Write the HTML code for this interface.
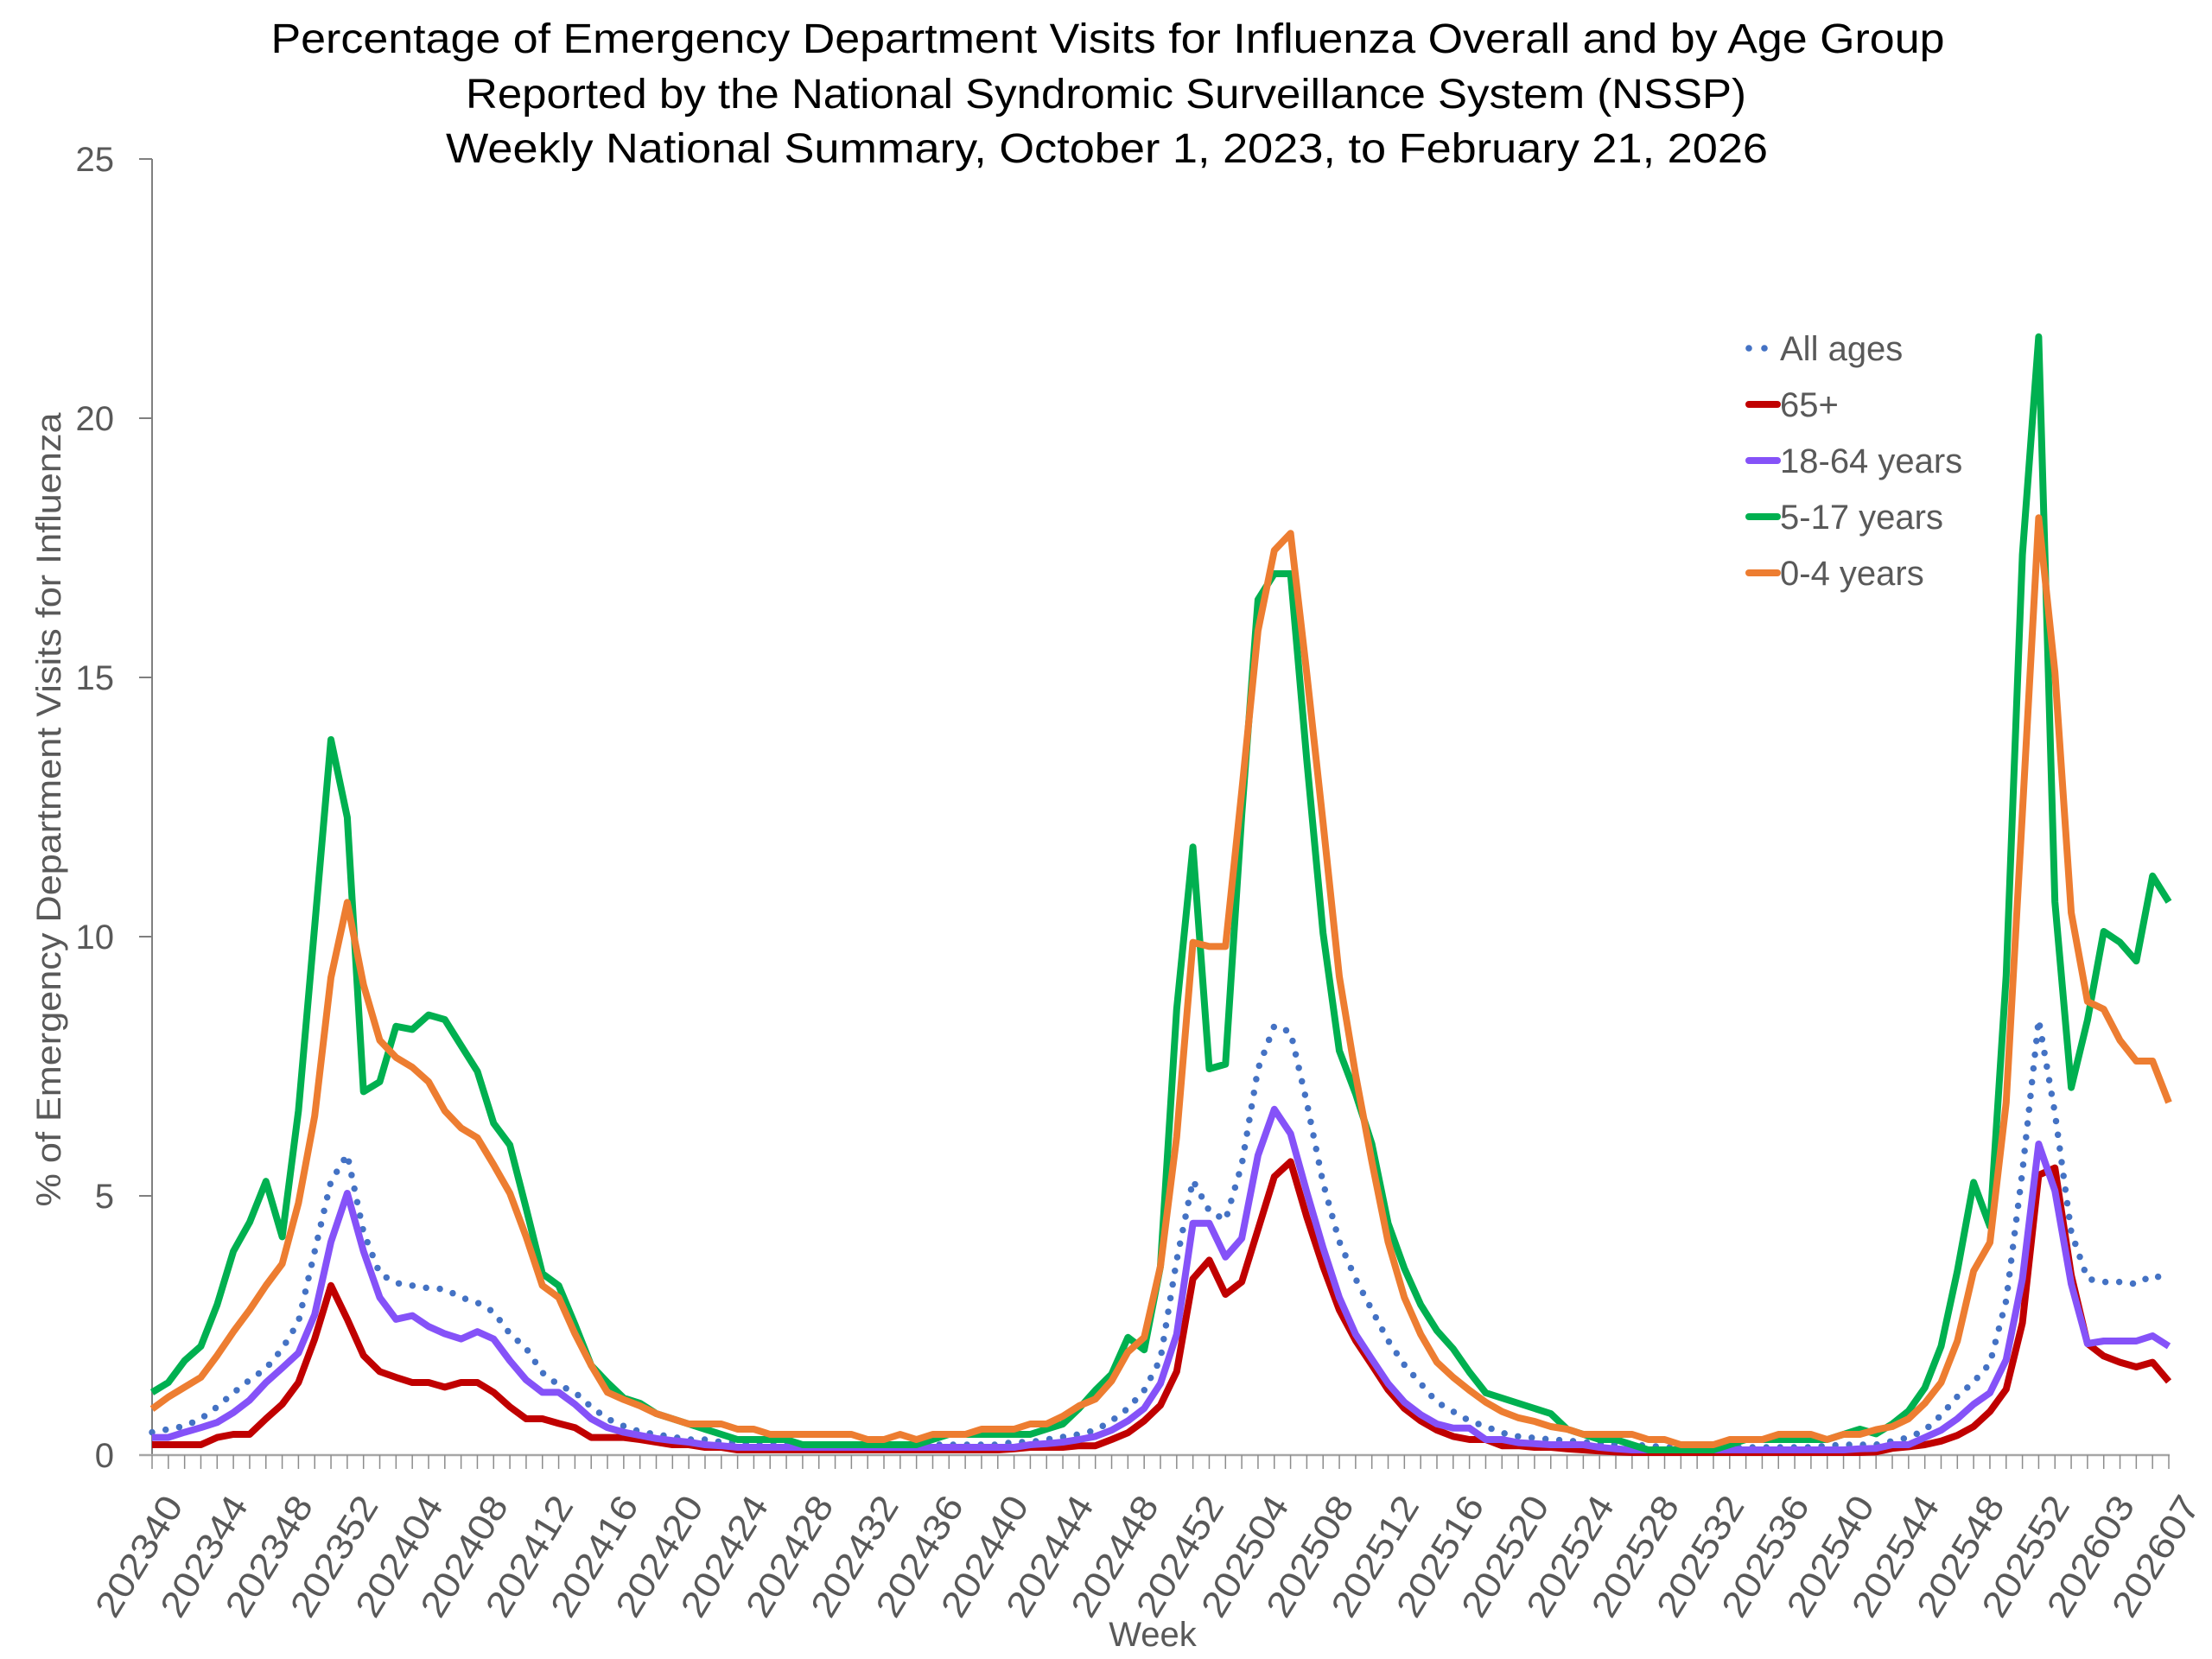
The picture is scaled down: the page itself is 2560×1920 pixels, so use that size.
<!DOCTYPE html>
<html><head><meta charset="utf-8"><style>
html,body{margin:0;padding:0;background:#fff;}
svg{display:block;}
</style></head><body>
<svg id="s" width="2560" height="1920" viewBox="0 0 2560 1920" xmlns="http://www.w3.org/2000/svg" font-family="Liberation Sans, sans-serif">
<rect width="2560" height="1920" fill="#fff"/>
<g fill="#000" font-size="48" text-anchor="middle">
<text x="1282" y="61" textLength="1937" lengthAdjust="spacingAndGlyphs">Percentage of Emergency Department Visits for Influenza Overall and by Age Group</text>
<text x="1280" y="125" textLength="1482" lengthAdjust="spacingAndGlyphs">Reported by the National Syndromic Surveillance System (NSSP)</text>
<text x="1281" y="188" textLength="1530" lengthAdjust="spacingAndGlyphs">Weekly National Summary, October 1, 2023, to February 21, 2026</text>
</g>
<text transform="translate(70,937) rotate(-90)" text-anchor="middle" font-size="40" fill="#595959" textLength="919" lengthAdjust="spacingAndGlyphs">% of Emergency Department Visits for Influenza</text>
<text x="1334" y="1905" text-anchor="middle" font-size="40" fill="#595959">Week</text>
<g id="axes"></g>
<g id="series"></g>
<g id="legend" font-size="40" fill="#595959"></g>
</svg>
<script>
const NS="http://www.w3.org/2000/svg";
function el(p,t,a,txt){const e=document.createElementNS(NS,t);for(const k in a)e.setAttribute(k,a[k]);if(txt!==undefined)e.textContent=txt;p.appendChild(e);return e;}
const X0=176,DX=2334/124,Y0=1684,SY=60;
const xp=i=>X0+DX*i, yp=v=>Y0-SY*v;
const ax=document.getElementById('axes');
// y axis
el(ax,'line',{x1:X0,y1:184,x2:X0,y2:Y0,stroke:'#7f7f7f','stroke-width':2});
for(let v=0;v<=25;v+=5){
  el(ax,'line',{x1:161,y1:yp(v),x2:X0,y2:yp(v),stroke:'#7f7f7f','stroke-width':2});
  el(ax,'text',{x:132,y:yp(v)+14,'text-anchor':'end','font-size':40,fill:'#595959'},String(v));
}
el(ax,'line',{x1:161,y1:Y0,x2:2511,y2:Y0,stroke:'#a6a6a6','stroke-width':2.5});
for(let i=0;i<=124;i++){
  el(ax,'line',{x1:xp(i),y1:Y0,x2:xp(i),y2:1700,stroke:'#8c8c8c','stroke-width':1.5});
}
const labels=["202340","202344","202348","202352","202404","202408","202412","202416","202420","202424","202428","202432","202436","202440","202444","202448","202452","202504","202508","202512","202516","202520","202524","202528","202532","202536","202540","202544","202548","202552","202603","202607"];
labels.forEach((l,k)=>{
  const x=xp(k*4)+37,y=1742;
  el(ax,'text',{transform:`translate(${x},${y}) rotate(-59)`,'text-anchor':'end','font-size':42,fill:'#595959',textLength:155,lengthAdjust:'spacingAndGlyphs'},l);
});
const G=[1.21,1.4,1.82,2.1,2.9,3.93,4.49,5.28,4.21,6.64,10.2,13.8,12.3,7.01,7.2,8.27,8.21,8.49,8.4,7.9,7.4,6.4,5.98,4.76,3.5,3.27,2.52,1.73,1.4,1.1,
1.0,0.8,0.7,0.6,0.5,0.4,0.3,0.3,0.3,0.3,0.2,0.2,0.2,0.2,0.2,0.2,0.2,0.2,0.3,0.4,0.4,0.4,0.4,0.4,0.4,0.5,0.6,0.9,
1.25,1.56,2.27,2.03,3.64,8.6,11.73,7.45,7.54,12.35,16.5,17.0,17.0,13.4,10.07,7.8,6.97,6.0,4.47,3.6,2.9,2.4,2.05,1.6,1.2,1.1,1.0,
0.9,0.8,0.5,0.4,0.3,0.3,0.2,0.1,0.1,0.1,0.1,0.1,0.2,0.3,0.3,0.3,0.3,0.3,0.3,0.4,0.5,
0.41,0.6,0.85,1.3,2.1,3.55,5.26,4.41,9.25,17.37,21.57,10.67,7.09,8.39,10.1,9.89,9.53,11.17,10.67];
const O=[0.89,1.12,1.31,1.5,1.92,2.38,2.8,3.27,3.69,4.86,6.54,9.21,10.66,9.07,8.0,7.67,7.48,7.2,6.64,6.31,6.12,5.6,5.05,4.21,3.27,3.04,2.34,1.73,1.21,1.07,
0.95,0.8,0.7,0.6,0.6,0.6,0.5,0.5,0.4,0.4,0.4,0.4,0.4,0.4,0.3,0.3,0.4,0.3,0.4,0.4,0.4,0.5,0.5,0.5,0.6,0.6,0.75,0.95,
1.08,1.43,1.99,2.27,3.64,6.14,9.89,9.81,9.81,12.8,15.9,17.45,17.78,15.07,12.2,9.23,7.33,5.66,4.11,3.04,2.33,1.79,1.5,1.25,1.02,0.84,0.72,
0.65,0.55,0.5,0.4,0.4,0.4,0.4,0.3,0.3,0.2,0.2,0.2,0.3,0.3,0.3,0.4,0.4,0.4,0.3,0.4,0.4,
0.49,0.55,0.7,1.0,1.4,2.2,3.55,4.1,6.8,12.4,18.08,15.1,10.46,8.75,8.6,8.0,7.6,7.6,6.8];
const A=[0.44,0.5,0.56,0.7,0.93,1.2,1.45,1.67,2.05,2.57,3.93,5.28,5.8,4.3,3.5,3.32,3.27,3.22,3.2,3.04,2.94,2.76,2.34,2.06,1.59,1.35,1.21,0.93,0.7,0.56,
0.45,0.4,0.35,0.3,0.3,0.25,0.25,0.2,0.2,0.2,0.2,0.2,0.2,0.2,0.2,0.2,0.2,0.2,0.2,0.2,0.2,0.2,0.2,0.25,0.25,0.3,0.35,0.4,
0.48,0.66,0.9,1.25,1.85,3.76,5.3,4.71,4.53,5.6,7.45,8.28,8.16,6.8,5.25,4.12,3.4,2.8,2.21,1.74,1.38,1.02,0.84,0.66,0.55,0.43,0.36,
0.33,0.3,0.28,0.25,0.22,0.2,0.2,0.18,0.15,0.15,0.15,0.15,0.15,0.15,0.15,0.15,0.15,0.15,0.18,0.2,0.2,
0.2,0.27,0.34,0.48,0.77,1.13,1.41,1.77,2.98,5.47,8.4,6.6,4.3,3.4,3.34,3.34,3.3,3.47,3.38];
const P=[0.34,0.34,0.44,0.53,0.63,0.82,1.06,1.4,1.68,1.97,2.71,4.11,5.05,3.93,3.04,2.62,2.69,2.48,2.34,2.24,2.38,2.24,1.82,1.45,1.21,1.21,0.98,0.7,0.53,0.44,
0.38,0.32,0.28,0.25,0.2,0.18,0.15,0.15,0.15,0.15,0.15,0.15,0.15,0.15,0.15,0.15,0.15,0.15,0.15,0.15,0.15,0.15,0.15,0.15,0.2,0.22,0.25,0.3,
0.36,0.48,0.66,0.9,1.38,2.33,4.47,4.47,3.82,4.18,5.78,6.67,6.2,5.07,4.0,3.04,2.33,1.85,1.38,1.02,0.78,0.6,0.52,0.52,0.3,0.3,0.24,
0.22,0.2,0.2,0.2,0.15,0.12,0.1,0.1,0.1,0.1,0.1,0.1,0.1,0.1,0.1,0.1,0.1,0.1,0.1,0.1,0.12,
0.13,0.2,0.2,0.34,0.48,0.7,0.98,1.2,1.84,3.4,6.0,5.1,3.3,2.15,2.2,2.2,2.2,2.3,2.1];
const R=[0.2,0.2,0.2,0.2,0.34,0.4,0.4,0.7,0.98,1.4,2.24,3.27,2.62,1.92,1.61,1.5,1.4,1.4,1.31,1.4,1.4,1.21,0.93,0.7,0.7,0.61,0.53,0.34,0.34,0.34,
0.3,0.25,0.2,0.2,0.15,0.15,0.1,0.1,0.1,0.1,0.1,0.1,0.1,0.1,0.1,0.1,0.1,0.1,0.1,0.1,0.1,0.1,0.1,0.12,0.15,0.15,0.15,0.18,
0.18,0.3,0.43,0.66,0.96,1.61,3.4,3.76,3.1,3.34,4.35,5.37,5.66,4.59,3.64,2.8,2.21,1.74,1.26,0.9,0.66,0.48,0.36,0.3,0.3,0.18,0.18,
0.15,0.15,0.12,0.1,0.08,0.06,0.05,0.05,0.05,0.05,0.05,0.05,0.05,0.05,0.05,0.05,0.05,0.05,0.05,0.05,0.05,
0.06,0.13,0.16,0.2,0.27,0.38,0.55,0.84,1.27,2.55,5.4,5.54,3.47,2.15,1.91,1.79,1.7,1.79,1.42];
const sg=document.getElementById('series');
function pts(d){return d.map((v,i)=>xp(i).toFixed(1)+','+yp(v).toFixed(1)).join(' ');}
el(sg,'polyline',{points:pts(A),fill:'none',stroke:'#4472C4','stroke-width':7.5,'stroke-linecap':'round','stroke-dasharray':'0 16'});
el(sg,'polyline',{points:pts(R),fill:'none',stroke:'#C00000','stroke-width':8,'stroke-linejoin':'round'});
el(sg,'polyline',{points:pts(P),fill:'none',stroke:'#8552F8','stroke-width':8,'stroke-linejoin':'round'});
el(sg,'polyline',{points:pts(G),fill:'none',stroke:'#00B050','stroke-width':8,'stroke-linejoin':'round'});
el(sg,'polyline',{points:pts(O),fill:'none',stroke:'#ED7D31','stroke-width':8,'stroke-linejoin':'round'});
const lg=document.getElementById('legend');
const items=[["All ages","#4472C4",true,403],["65+","#C00000",false,468],["18-64 years","#8552F8",false,533],["5-17 years","#00B050",false,598],["0-4 years","#ED7D31",false,663]];
items.forEach(([t,c,dot,y])=>{
  if(dot){el(lg,'circle',{cx:2024,cy:y,r:3.8,fill:c});el(lg,'circle',{cx:2042,cy:y,r:3.8,fill:c});}
  else el(lg,'line',{x1:2024,y1:y,x2:2057,y2:y,stroke:c,'stroke-width':8,'stroke-linecap':'round'});
  el(lg,'text',{x:2060,y:y+14},t);
});
</script>
</body></html>
